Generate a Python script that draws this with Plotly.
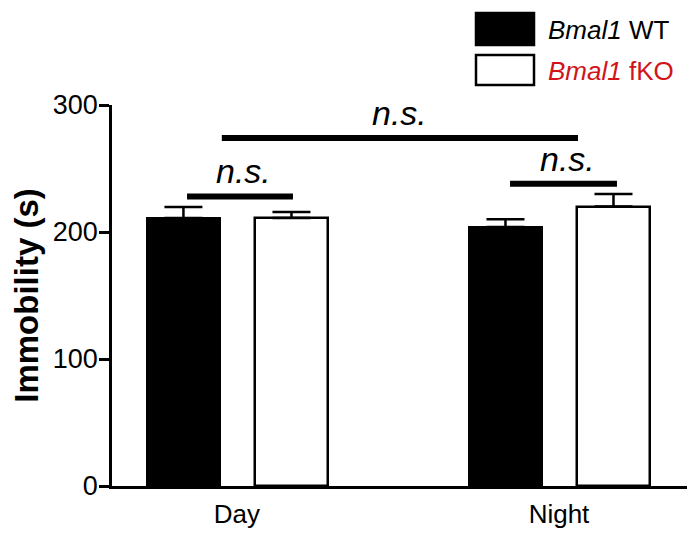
import plotly.graph_objects as go

# ---- data ----
categories = ["Day", "Night"]
wt_mean = [211, 204]
wt_sem = [8.7, 6.0]
fko_mean = [211, 220]
fko_sem = [4.7, 10.0]
y_ticks = [0, 100, 200, 300]
series_names = ["<i>Bmal1</i> WT", "<i>Bmal1</i> fKO"]
sig_label = "n.s."
sig_levels = [228, 238, 274]   # day-pair, night-pair, day-vs-night bracket heights

FONT = "Arial, Liberation Sans, sans-serif"
xpos = list(range(len(categories)))

OFF = 8  # page body margin of the html page
W, H = 696 - OFF, 538 - OFF
ML, MR, MT, MB = 112 - OFF, 9, 105 - OFF, 52
PW, PH = W - ML - MR, H - MT - MB
XR = [-0.388, 1.3975]

def px2paper_x(px):
    return (px - OFF - ML) / PW

def px2paper_y(py):
    return (H - MB - (py - OFF)) / PH

fig = go.Figure()
fig.add_trace(go.Bar(
    x=xpos, y=wt_mean, name=series_names[0],
    offset=-0.2795, width=0.2267,
    marker=dict(color="black", line=dict(color="black", width=2)),
    error_y=dict(type="data", array=wt_sem, arrayminus=[0] * len(wt_sem), symmetric=False,
                 color="black", thickness=2.5, width=19),
    showlegend=False,
))
fig.add_trace(go.Bar(
    x=xpos, y=fko_mean, name=series_names[1],
    offset=0.0559, width=0.2267,
    marker=dict(color="white", line=dict(color="black", width=2.5)),
    error_y=dict(type="data", array=fko_sem, arrayminus=[0] * len(fko_sem), symmetric=False,
                 color="black", thickness=2.5, width=19),
    showlegend=False,
))

shapes = []
annotations = []
# significance brackets
brackets = [
    (xpos[0] - 0.155, xpos[0] + 0.174, sig_levels[0], xpos[0] + 0.02),
    (xpos[1] - 0.152, xpos[1] + 0.180, sig_levels[1], xpos[1] + 0.025),
    (xpos[0] - 0.047, xpos[1] + 0.059, sig_levels[2], 0.506),
]
for x0, x1, yv, xt in brackets:
    shapes.append(dict(type="line", xref="x", yref="y", x0=x0, x1=x1, y0=yv, y1=yv,
                       line=dict(color="black", width=6)))
    annotations.append(dict(x=xt, y=yv, xref="x", yref="y", text="<i>%s</i>" % sig_label,
                            showarrow=False, yanchor="bottom", yshift=4,
                            font=dict(family=FONT, size=34, color="black")))

# manual legend
legend_boxes = [(13, 45, "black"), (55, 85, "white")]
legend_colors = ["black", "#d0141a"]
legend_text_y = [30, 71]
for (t, b, fill), name, col, ty in zip(legend_boxes, series_names, legend_colors, legend_text_y):
    shapes.append(dict(type="rect", xref="paper", yref="paper",
                       x0=px2paper_x(476), x1=px2paper_x(534),
                       y0=px2paper_y(b), y1=px2paper_y(t),
                       fillcolor=fill, line=dict(color="black", width=2.5)))
    annotations.append(dict(x=px2paper_x(546), y=px2paper_y(ty), xref="paper", yref="paper",
                            text=name, showarrow=False, xanchor="left", yanchor="middle",
                            font=dict(family=FONT, size=26, color=col)))

fig.update_layout(
    width=W, height=H,
    margin=dict(l=ML, r=MR, t=MT, b=MB, autoexpand=False),
    plot_bgcolor="white", paper_bgcolor="white",
    shapes=shapes, annotations=annotations,
    bargap=0, barmode="overlay",
    font=dict(family=FONT, color="black"),
)
fig.update_xaxes(
    range=XR, tickvals=xpos, ticktext=categories, ticks="",
    showline=True, linecolor="black", linewidth=2.5, showgrid=False, zeroline=False,
    tickfont=dict(family=FONT, size=26, color="black"), ticklabelstandoff=3,
    automargin=False,
)
fig.update_yaxes(
    range=[0, 300], tickvals=y_ticks, ticks="outside", ticklen=10, tickwidth=2.5,
    tickcolor="black", showline=True, linecolor="black", linewidth=2.5,
    showgrid=False, zeroline=False, automargin=False,
    tickfont=dict(family=FONT, size=27, color="black"), ticklabelstandoff=-4,
    title=dict(text="<b>Immobility (s)</b>", font=dict(family=FONT, size=33, color="black"),
               standoff=8),
)

fig.write_html("out.html")
